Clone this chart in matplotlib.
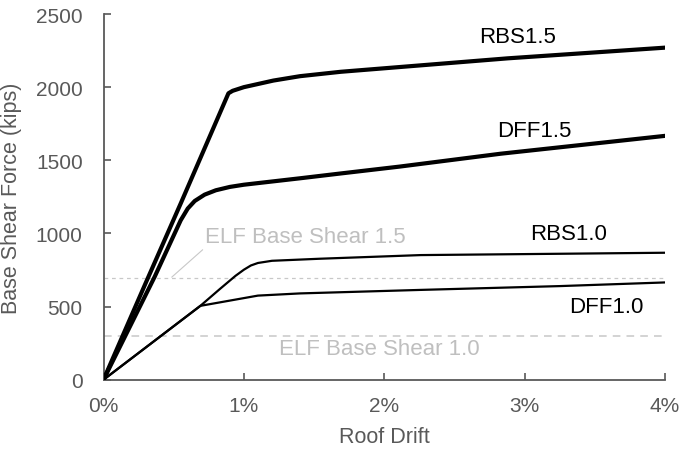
"""Pushover curves: base shear vs. roof drift for RBS / DFF frames at two strength levels."""

import matplotlib

matplotlib.use("Agg")

import matplotlib.pyplot as plt  # noqa: E402
from matplotlib.ticker import FuncFormatter, MultipleLocator  # noqa: E402

plt.rcParams["font.family"] = ["Liberation Sans", "DejaVu Sans"]

# roof drift (%) / base shear (kips)
rbs15_drift = [0.0, 0.30, 0.55, 0.89, 0.92, 1.00, 1.21, 1.40, 1.69, 2.88, 4.00]
rbs15_shear = [0, 660, 1205, 1958, 1975, 2000, 2045, 2075, 2105, 2197, 2270]

dff15_drift = [0.0, 0.365, 0.55, 0.60, 0.65, 0.72, 0.80, 0.90, 1.00, 1.40, 1.69, 2.11, 2.83, 4.00]
dff15_shear = [0, 705, 1090, 1170, 1222, 1265, 1295, 1318, 1333, 1377, 1410, 1457, 1545, 1667]

rbs10_drift = [0.0, 0.69, 0.83, 0.94, 1.00, 1.05, 1.10, 1.20, 1.54, 2.26, 3.25, 4.00]
rbs10_shear = [0, 505, 621, 710, 752, 781, 798, 813, 827, 852, 861, 868]

dff10_drift = [0.0, 0.69, 1.10, 1.40, 2.26, 3.25, 4.00]
dff10_shear = [0, 505, 575, 590, 614, 640, 665]

elf_15 = 695
elf_10 = 297

curve_labels = ["RBS1.5", "DFF1.5", "RBS1.0", "DFF1.0"]
label_pos = [(2.95, 2349), (3.07, 1705), (3.31, 998), (3.58, 503)]

GRAY = "#595959"
ELF_GRAY = "#bfbfbf"
FS = 15
FS_NOTE = 16

fig = plt.figure(figsize=(6.81, 4.52), dpi=100)
ax = fig.add_axes([0.1520, 0.1577, 0.8245, 0.8091])

ax.axhline(elf_15, color="#c8c8c8", lw=0.9, ls=(0, (3, 3)), zorder=1)
ax.axhline(elf_10, color="#c8c8c8", lw=1.1, ls=(0, (5, 4)), zorder=1)

ax.plot(rbs15_drift, rbs15_shear, color="black", lw=3.0, solid_joinstyle="round", zorder=3)
ax.plot(dff15_drift, dff15_shear, color="black", lw=3.0, solid_joinstyle="round", zorder=3)
ax.plot(rbs10_drift, rbs10_shear, color="black", lw=1.6, solid_joinstyle="round", zorder=3)
ax.plot(dff10_drift, dff10_shear, color="black", lw=1.6, solid_joinstyle="round", zorder=3)

for text, (x, y) in zip(curve_labels, label_pos):
    ax.text(x, y, text, fontsize=FS_NOTE, color="black", ha="center", va="center")

ax.annotate(
    "ELF Base Shear 1.5",
    xy=(0.486, 701),
    xytext=(0.726, 977),
    fontsize=FS_NOTE,
    color=ELF_GRAY,
    ha="left",
    va="center",
    arrowprops={"arrowstyle": "-", "color": "#c8c8c8", "lw": 0.8, "shrinkA": 0, "shrinkB": 0,
                "relpos": (0.0, 0.0)},
)
ax.text(1.965, 215, "ELF Base Shear 1.0", fontsize=FS_NOTE, color=ELF_GRAY, ha="center", va="center")

ax.set_xlim(0, 4)
ax.set_ylim(0, 2500)
ax.xaxis.set_major_locator(MultipleLocator(1))
ax.yaxis.set_major_locator(MultipleLocator(500))
ax.xaxis.set_major_formatter(FuncFormatter(lambda v, _: f"{v:.0f}%"))

for side in ("top", "right"):
    ax.spines[side].set_visible(False)
for side in ("left", "bottom"):
    ax.spines[side].set_color(GRAY)
    ax.spines[side].set_linewidth(1.3)

ax.tick_params(direction="in", length=5, width=1.2, color=GRAY, labelcolor=GRAY, labelsize=FS)
ax.tick_params(axis="y", pad=15)
ax.tick_params(axis="x", pad=12)

ax.set_xlabel("Roof Drift", fontsize=15.5, color=GRAY, labelpad=8)
ax.set_ylabel("Base Shear Force (kips)", fontsize=15.5, color=GRAY, labelpad=10)

fig.savefig("out.png", dpi=100)
plt.close(fig)
